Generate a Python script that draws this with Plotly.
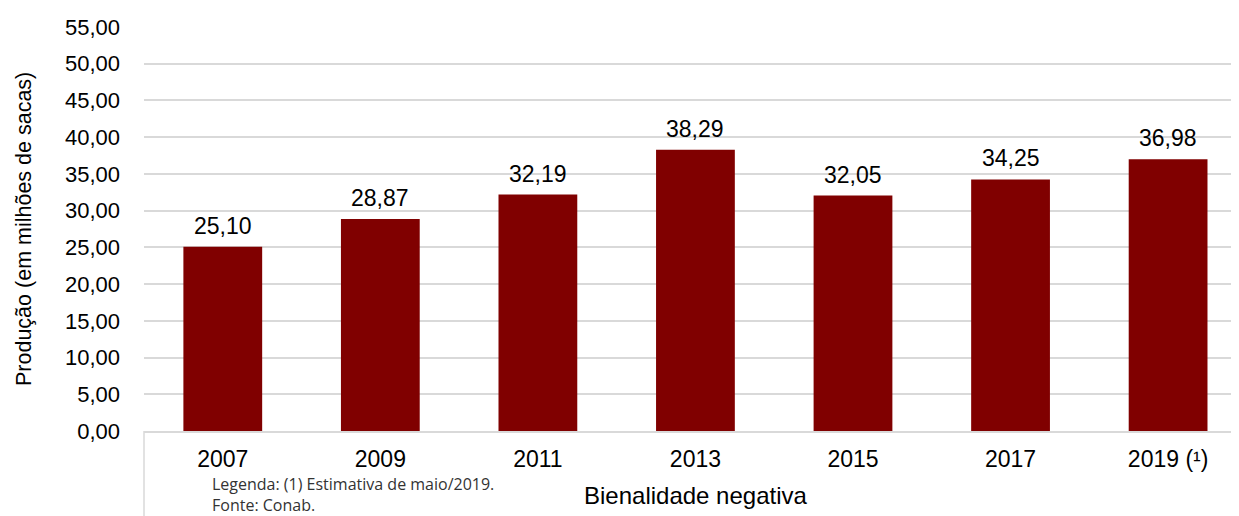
import plotly.graph_objects as go

categories = ["2007", "2009", "2011", "2013", "2015", "2017", "2019 (¹)"]
production = [25.10, 28.87, 32.19, 38.29, 32.05, 34.25, 36.98]
y_ticks = [0, 5, 10, 15, 20, 25, 30, 35, 40, 45, 50, 55]
y_tick_labels = [f"{v:.2f}".replace(".", ",") for v in y_ticks]
value_labels = [f"{v:.2f}".replace(".", ",") for v in production]

# page has an 8px body margin; figure sized so the plot sits where the reference's does
OFF = 8
W, H = 1239 - OFF, 516 - OFF
ML, MR, MT, MB = 144 - OFF, 0, 27 - OFF, 85
PW, PH = W - ML - MR, H - MT - MB
PLOT_L, PLOT_B = 144, 431
FONT = "Liberation Sans"


def px(X):
    return (X - PLOT_L) / PW


def py(Y):
    return (PLOT_B - Y) / PH


fig = go.Figure()
fig.add_trace(go.Bar(
    x=categories, y=production, width=0.5,
    marker=dict(color="#800000", line=dict(width=0)),
    hoverinfo="skip",
))

annotations = []
for i, (v, t) in enumerate(zip(production, value_labels)):
    annotations.append(dict(x=i, y=v, xref="x", yref="y", text=t, showarrow=False,
                            yanchor="middle", yshift=21,
                            font=dict(family=FONT, size=23, color="#000000")))

annotations.append(dict(x=px(24), y=0.5, xref="paper", yref="paper",
                        text="Produção (em milhões de sacas)", textangle=-90, showarrow=False,
                        xanchor="center", yanchor="middle",
                        font=dict(family=FONT, size=21.5, color="#000000")))
annotations.append(dict(x=px(695), y=py(496), xref="paper", yref="paper",
                        text="Bienalidade negativa", showarrow=False,
                        xanchor="center", yanchor="middle",
                        font=dict(family=FONT, size=24, color="#000000")))
annotations.append(dict(x=px(210), y=py(495), xref="paper", yref="paper",
                        text="Legenda: (1) Estimativa de maio/2019.<br>Fonte: Conab.",
                        showarrow=False, align="left",
                        xanchor="left", yanchor="middle",
                        font=dict(family="Open Sans", size=16, color="#333333")))

fig.update_layout(
    width=W, height=H,
    margin=dict(l=ML, r=MR, t=MT, b=MB, pad=0),
    paper_bgcolor="white", plot_bgcolor="white",
    showlegend=False,
    annotations=annotations,
    shapes=[dict(type="line", xref="paper", yref="paper", x0=0, x1=0,
                 y0=0, y1=py(520), line=dict(color="#d9d9d9", width=1.5))],
    xaxis=dict(type="category", range=[-0.5, 6.45], showgrid=False, showline=True,
               linecolor="#d9d9d9", linewidth=1.5, ticks="",
               ticklabelstandoff=7,
               tickfont=dict(family=FONT, size=23, color="#000000")),
    yaxis=dict(range=[0, 55], tickvals=y_ticks, ticktext=y_tick_labels,
               showgrid=True, gridcolor="#d9d9d9", gridwidth=1.5, zeroline=False,
               showline=False, ticks="", ticklabelstandoff=23,
               tickfont=dict(family=FONT, size=22, color="#000000")),
)

fig.write_html("out.html")
